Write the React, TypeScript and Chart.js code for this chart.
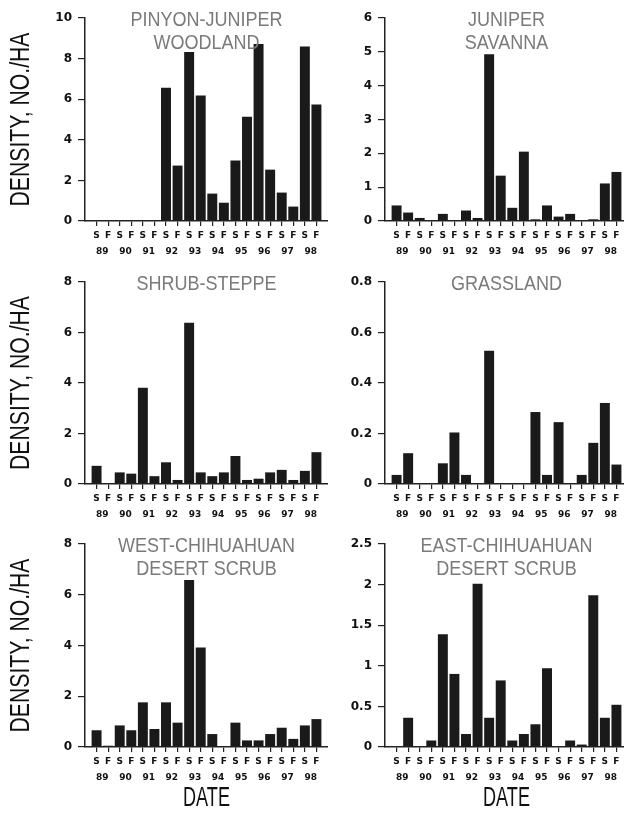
import React, { useEffect, useRef } from 'react';
import { Chart, registerables } from 'chart.js';

Chart.register(...registerables);

// ---- data ----
const seasonLabels = ['S', 'F', 'S', 'F', 'S', 'F', 'S', 'F', 'S', 'F', 'S', 'F', 'S', 'F', 'S', 'F', 'S', 'F', 'S', 'F'];
const yearLabels = ['89', '90', '91', '92', '93', '94', '95', '96', '97', '98'];

const pinyonJuniper = [0, 0, 0, 0, 0, 0, 6.56, 2.73, 8.32, 6.18, 1.35, 0.9, 2.98, 5.13, 8.72, 2.53, 1.4, 0.71, 8.59, 5.74];
const juniperSavanna = [0.46, 0.25, 0.09, 0, 0.21, 0, 0.31, 0.09, 4.93, 1.34, 0.39, 2.05, 0.05, 0.46, 0.13, 0.21, 0, 0.05, 1.11, 1.45];
const shrubSteppe = [0.72, 0, 0.46, 0.41, 3.81, 0.31, 0.86, 0.16, 6.39, 0.46, 0.31, 0.46, 1.11, 0.16, 0.21, 0.46, 0.56, 0.16, 0.52, 1.26];
const grassland = [0.036, 0.122, 0, 0, 0.082, 0.204, 0.036, 0, 0.528, 0, 0, 0, 0.285, 0.036, 0.245, 0, 0.036, 0.163, 0.321, 0.077];
const westChihuahuan = [0.66, 0.05, 0.85, 0.66, 1.76, 0.71, 1.76, 0.96, 6.58, 3.92, 0.51, 0, 0.96, 0.26, 0.26, 0.51, 0.76, 0.32, 0.85, 1.1];
const eastChihuahuan = [0, 0.36, 0, 0.08, 1.39, 0.9, 0.16, 2.01, 0.36, 0.82, 0.08, 0.16, 0.28, 0.97, 0, 0.08, 0.03, 1.87, 0.36, 0.52];

const panelTitles = [
  ['PINYON-JUNIPER', 'WOODLAND'],
  ['JUNIPER', 'SAVANNA'],
  ['SHRUB-STEPPE'],
  ['GRASSLAND'],
  ['WEST-CHIHUAHUAN', 'DESERT SCRUB'],
  ['EAST-CHIHUAHUAN', 'DESERT SCRUB'],
];
const yMax = [10, 6, 8, 0.8, 8, 2.5];
const yStep = [2, 1, 2, 0.2, 2, 0.5];
const yTitle = 'DENSITY, NO./HA';
const xTitle = 'DATE';

// ---- text plugin ----
const textPlugin = {
  id: 'panelText',
  afterDatasetsDraw(chart: any, _args: any, opts: any) {
    const { ctx, chartArea } = chart;
    const cx = (chartArea.left + chartArea.right) / 2;
    ctx.save();
    ctx.textAlign = 'center';
    ctx.textBaseline = 'middle';
    ctx.fillStyle = '#7a7a7a';
    ctx.font = '20px "Liberation Sans", Arial, sans-serif';
    (opts.title || []).forEach((line: string, i: number) => {
      ctx.save();
      ctx.translate(cx, chartArea.top + 2 + i * 23);
      ctx.scale(0.9, 1);
      ctx.fillText(line, 0, 0);
      ctx.restore();
    });
    ctx.fillStyle = '#111';
    ctx.font = '27px "Liberation Sans", Arial, sans-serif';
    if (opts.yTitle) {
      const w = ctx.measureText(opts.yTitle).width;
      ctx.save();
      ctx.translate(22, (chartArea.top + chartArea.bottom) / 2);
      ctx.rotate(-Math.PI / 2);
      ctx.scale(174 / w, 1);
      ctx.fillText(opts.yTitle, 0, 0);
      ctx.restore();
    }
    if (opts.xTitle) {
      const w = ctx.measureText(opts.xTitle).width;
      ctx.save();
      ctx.translate(cx, chartArea.bottom + 52);
      ctx.scale(47 / w, 1);
      ctx.fillText(opts.xTitle, 0, 0);
      ctx.restore();
    }
    ctx.restore();
  },
};

type PanelProps = {
  values: number[];
  idx: number;
  left: number;
  top: number;
  height: number;
  padTop: number;
  padBottom: number;
  showY: boolean;
  showX: boolean;
};

const AXIS_COLOR = '#222';

function Panel({ values, idx, left, top, height, padTop, padBottom, showY, showX }: PanelProps) {
  const ref = useRef<HTMLCanvasElement | null>(null);
  useEffect(() => {
    if (!ref.current) return;
    const chart = new Chart(ref.current, {
      type: 'bar',
      data: {
        datasets: [
          {
            data: values.map((v, i) => ({ x: i, y: v })),
            backgroundColor: '#1a1a1a',
            borderWidth: 0,
            categoryPercentage: 1,
            barPercentage: 0.86,
            xAxisID: 'x',
            yAxisID: 'y',
          },
        ],
      },
      options: {
        animation: false,
        responsive: false,
        layout: { padding: { top: padTop, bottom: padBottom, left: 0, right: 0 } },
        plugins: {
          legend: { display: false },
          tooltip: { enabled: false },
          title: { display: false },
          panelText: { title: panelTitles[idx], yTitle: showY ? yTitle : null, xTitle: showX ? xTitle : null },
        } as any,
        scales: {
          x: {
            type: 'linear',
            position: 'bottom',
            min: -1,
            max: 20,
            offset: false,
            afterBuildTicks: (s: any) => {
              s.ticks = seasonLabels.map((_, i) => ({ value: i }));
            },
            afterFit: (s: any) => {
              s.height = 20;
            },
            grid: { offset: false, drawOnChartArea: false, drawTicks: true, tickLength: 5, color: AXIS_COLOR, lineWidth: 1.2 },
            border: { display: true, color: AXIS_COLOR, width: 1.5 },
            ticks: {
              autoSkip: false,
              maxRotation: 0,
              minRotation: 0,
              padding: 4,
              color: '#111',
              font: { family: '"DejaVu Sans", sans-serif', size: 9, weight: 'bold' },
              callback: (_v: any, i: number) => seasonLabels[i],
            },
          },
          x2: {
            type: 'linear',
            position: 'bottom',
            axis: 'x',
            min: -1,
            max: 20,
            offset: false,
            afterBuildTicks: (s: any) => {
              s.ticks = yearLabels.map((_, i) => ({ value: i * 2 + 0.5 }));
            },
            afterFit: (s: any) => {
              s.height = 16;
            },
            grid: { display: false, drawTicks: false, tickLength: 0, offset: false },
            border: { display: false },
            ticks: {
              autoSkip: false,
              maxRotation: 0,
              minRotation: 0,
              padding: 5,
              color: '#111',
              font: { family: '"DejaVu Sans", sans-serif', size: 9, weight: 'bold' },
              callback: (_v: any, i: number) => yearLabels[i],
            },
          },
          y: {
            type: 'linear',
            min: 0,
            max: yMax[idx],
            afterFit: (s: any) => {
              s.width = 85;
            },
            grid: { drawOnChartArea: false, drawTicks: true, tickLength: 7, color: AXIS_COLOR, lineWidth: 1.2 },
            border: { display: true, color: AXIS_COLOR, width: 1.5 },
            ticks: {
              stepSize: yStep[idx],
              padding: 6,
              color: '#111',
              font: { family: '"DejaVu Sans", sans-serif', size: 12, weight: 'bold' },
              callback: (v: any) => String(+Number(v).toFixed(2)),
            },
          },
        } as any,
      },
      plugins: [textPlugin as any],
    });
    return () => chart.destroy();
  }, [values, idx, padTop, padBottom, showY, showX]);

  return (
    <canvas
      ref={ref}
      width={328}
      height={height}
      style={{ position: 'absolute', left, top, width: 328, height }}
    />
  );
}

const seriesList = [pinyonJuniper, juniperSavanna, shrubSteppe, grassland, westChihuahuan, eastChihuahuan];

// row layout: canvas top, canvas height, layout padding bottom
const rows = [
  { top: 0, height: 257, padBottom: 0 },
  { top: 264, height: 256, padBottom: 0 },
  { top: 526, height: 292, padBottom: 35 },
];

export default function App() {
  return (
    <div
      style={{
        position: 'fixed',
        left: 0,
        top: 0,
        width: 624,
        height: 818,
        overflow: 'hidden',
        background: '#fff',
      }}
    >
      {seriesList.map((values, i) => {
        const r = Math.floor(i / 2);
        const c = i % 2;
        const row = rows[r];
        return (
          <Panel
            key={i}
            values={values}
            idx={i}
            left={c === 0 ? 0 : 300}
            top={row.top}
            height={row.height}
            padTop={18}
            padBottom={row.padBottom}
            showY={c === 0}
            showX={r === 2}
          />
        );
      })}
    </div>
  );
}
